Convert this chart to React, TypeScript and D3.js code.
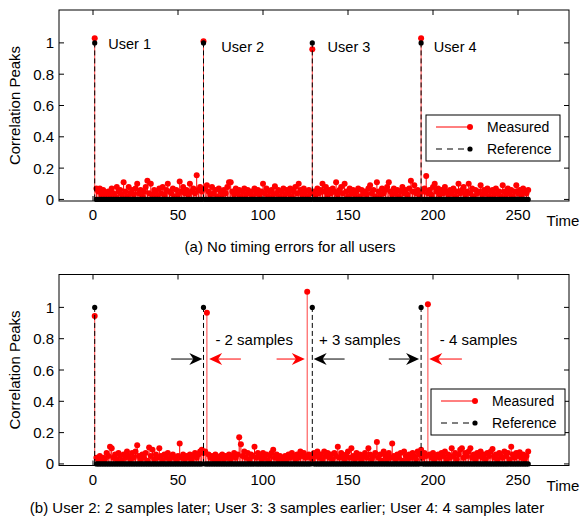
import React from 'react'
import * as d3 from 'd3'

// sample times run 1..256 (one value per sample)
const measuredA = [
  1.03, 0.07, 0.05, 0.07, 0.03, 0.06, 0.02, 0.04, 0.05, 0.03, 0.07, 0.04, 0.02, 0.08, 0.05, 0.06,
  0.03, 0.11, 0.05, 0.02, 0.08, 0.04, 0.06, 0.03, 0.07, 0.10, 0.04, 0.06, 0.02, 0.05, 0.08, 0.12,
  0.04, 0.10, 0.03, 0.06, 0.05, 0.02, 0.07, 0.04, 0.08, 0.03, 0.06, 0.10, 0.05, 0.04, 0.07, 0.02,
  0.06, 0.03, 0.115, 0.05, 0.08, 0.04, 0.06, 0.03, 0.10, 0.05, 0.07, 0.04, 0.155, 0.06, 0.08, 0.05,
  1.01, 0.07, 0.09, 0.05, 0.03, 0.08, 0.04, 0.06, 0.02, 0.07, 0.05, 0.03, 0.06, 0.04, 0.08, 0.11,
  0.11, 0.05, 0.03, 0.07, 0.04, 0.06, 0.02, 0.05, 0.07, 0.03, 0.06, 0.04, 0.05, 0.02, 0.07, 0.04,
  0.06, 0.03, 0.05, 0.10, 0.04, 0.07, 0.02, 0.05, 0.06, 0.03, 0.085, 0.04, 0.06, 0.02, 0.05, 0.07,
  0.03, 0.06, 0.04, 0.07, 0.02, 0.05, 0.08, 0.04, 0.10, 0.06, 0.03, 0.07, 0.05, 0.02, 0.06, 0.04,
  0.96, 0.05, 0.03, 0.07, 0.04, 0.06, 0.10, 0.05, 0.08, 0.03, 0.06, 0.04, 0.07, 0.05, 0.11, 0.03,
  0.06, 0.08, 0.04, 0.10, 0.05, 0.02, 0.07, 0.04, 0.06, 0.03, 0.05, 0.07, 0.02, 0.06, 0.04, 0.05,
  0.03, 0.07, 0.09, 0.04, 0.06, 0.02, 0.11, 0.05, 0.03, 0.07, 0.04, 0.06, 0.08, 0.11, 0.05, 0.03,
  0.07, 0.04, 0.06, 0.02, 0.05, 0.08, 0.04, 0.06, 0.03, 0.07, 0.12, 0.05, 0.09, 0.04, 0.06, 0.03,
  1.03, 0.05, 0.07, 0.15, 0.04, 0.06, 0.03, 0.08, 0.10, 0.05, 0.07, 0.03, 0.06, 0.04, 0.08, 0.05,
  0.03, 0.06, 0.04, 0.07, 0.02, 0.05, 0.10, 0.04, 0.06, 0.08, 0.03, 0.05, 0.10, 0.04, 0.07, 0.02,
  0.06, 0.04, 0.05, 0.09, 0.03, 0.06, 0.04, 0.07, 0.02, 0.05, 0.06, 0.03, 0.07, 0.04, 0.05, 0.02,
  0.09, 0.05, 0.03, 0.07, 0.04, 0.06, 0.02, 0.05, 0.09, 0.04, 0.06, 0.03, 0.07, 0.05, 0.04, 0.06,
]

const measuredB = [
  0.945, 0.04, 0.03, 0.05, 0.02, 0.04, 0.03, 0.07, 0.05, 0.11, 0.10, 0.04, 0.06, 0.03, 0.07, 0.05,
  0.02, 0.06, 0.04, 0.08, 0.05, 0.03, 0.07, 0.04, 0.08, 0.12, 0.05, 0.03, 0.06, 0.04, 0.07, 0.02,
  0.105, 0.05, 0.09, 0.03, 0.06, 0.04, 0.10, 0.05, 0.02, 0.06, 0.04, 0.07, 0.03, 0.05, 0.06, 0.04,
  0.02, 0.05, 0.13, 0.04, 0.06, 0.03, 0.05, 0.04, 0.06, 0.02, 0.05, 0.07, 0.04, 0.06, 0.08, 0.09,
  0.07, 0.08, 0.965, 0.06, 0.04, 0.05, 0.03, 0.06, 0.04, 0.02, 0.05, 0.06, 0.03, 0.05, 0.04, 0.06,
  0.03, 0.05, 0.07, 0.04, 0.06, 0.17, 0.125, 0.05, 0.08, 0.04, 0.07, 0.03, 0.06, 0.05, 0.11, 0.04,
  0.07, 0.05, 0.03, 0.07, 0.04, 0.06, 0.02, 0.05, 0.07, 0.09, 0.04, 0.06, 0.03, 0.05, 0.04, 0.02,
  0.05, 0.03, 0.06, 0.04, 0.07, 0.05, 0.03, 0.06, 0.04, 0.08, 0.05, 0.07, 0.04, 1.10, 0.06, 0.04,
  0.03, 0.07, 0.05, 0.08, 0.04, 0.06, 0.03, 0.08, 0.05, 0.07, 0.04, 0.06, 0.03, 0.07, 0.05, 0.11,
  0.04, 0.07, 0.05, 0.03, 0.06, 0.08, 0.04, 0.10, 0.05, 0.03, 0.07, 0.04, 0.06, 0.02, 0.05, 0.07,
  0.04, 0.10, 0.06, 0.03, 0.05, 0.07, 0.14, 0.04, 0.06, 0.02, 0.08, 0.05, 0.03, 0.07, 0.04, 0.13,
  0.05, 0.03, 0.06, 0.04, 0.07, 0.02, 0.08, 0.05, 0.03, 0.06, 0.04, 0.07, 0.05, 0.03, 0.08, 0.06,
  0.09, 0.04, 0.07, 0.05, 1.02, 0.06, 0.04, 0.07, 0.03, 0.05, 0.06, 0.04, 0.07, 0.05, 0.08, 0.03,
  0.06, 0.04, 0.10, 0.05, 0.07, 0.03, 0.06, 0.09, 0.10, 0.04, 0.07, 0.05, 0.08, 0.10, 0.04, 0.06,
  0.03, 0.07, 0.05, 0.08, 0.04, 0.06, 0.03, 0.07, 0.05, 0.08, 0.095, 0.04, 0.06, 0.03, 0.07, 0.05,
  0.04, 0.08, 0.05, 0.07, 0.03, 0.11, 0.06, 0.04, 0.07, 0.05, 0.075, 0.04, 0.06, 0.03, 0.05, 0.08,
]

// reference: 1 at the user peaks, 0 everywhere else
const refPeakTimes = [1, 65, 129, 193]
const refPeakValue = 1

const xTicks = [0, 50, 100, 150, 200, 250]
const yTicks = [0, 0.2, 0.4, 0.6, 0.8, 1]

// top panel annotations (data coords)
const userLabels = ['User 1', 'User 2', 'User 3', 'User 4']
const userLabelX = [9, 75.5, 138, 200.5]
const userLabelY = [0.995, 0.975, 0.975, 0.975]

// bottom panel annotations
const shiftLabels = ['- 2 samples', '+ 3 samples', '- 4 samples']
const shiftLabelX = [72, 133, 204]
const shiftLabelY = 0.8
const arrows = [
  { from: 46, to: 64.3, color: '#000' },
  { from: 87, to: 68.3, color: '#ff0000' },
  { from: 108, to: 124.6, color: '#ff0000' },
  { from: 148, to: 129.8, color: '#000' },
  { from: 174, to: 191.8, color: '#000' },
  { from: 217, to: 197.8, color: '#ff0000' },
]
const arrowY = 0.67

const FONT = '"Liberation Sans", Arial, sans-serif'
const W = 581
const H = 520

const x = d3.scaleLinear().domain([-20, 280]).range([59, 569])

const refSeries = measuredA.map((_, i) => (refPeakTimes.includes(i + 1) ? refPeakValue : 0))

function arrowPath(x1: number, x2: number, y: number) {
  const dir = Math.sign(x2 - x1)
  const hl = 13, hw = 6, notch = 4
  return `M${x2},${y} L${x2 - dir * hl},${y - hw} L${x2 - dir * (hl - notch)},${y} L${x2 - dir * hl},${y + hw} Z`
}

function Panel(props: any) {
  const { top, bottom, measured, legend, children } = props
  const y = d3.scaleLinear().domain([-0.01, 1.21]).range([bottom, top])
  const l = 59, r = 569
  const y0 = y(0)
  return (
    <g>
      {/* axis box */}
      <rect x={l} y={top} width={r - l} height={bottom - top} fill="#fff" stroke="#000" strokeWidth={1} />
      {xTicks.map(t => (
        <g key={'x' + t}>
          <line x1={x(t)} x2={x(t)} y1={bottom} y2={bottom - 5} stroke="#000" />
          <line x1={x(t)} x2={x(t)} y1={top} y2={top + 5} stroke="#000" />
          <text x={x(t)} y={bottom + 19} textAnchor="middle" fontSize={15}>{t}</text>
        </g>
      ))}
      {yTicks.map(t => (
        <g key={'y' + t}>
          <line x1={l} x2={l + 5} y1={y(t)} y2={y(t)} stroke="#000" />
          <line x1={r} x2={r - 5} y1={y(t)} y2={y(t)} stroke="#000" />
          <text x={54} y={y(t) + 5.5} textAnchor="end" fontSize={15}>{t}</text>
        </g>
      ))}
      <text x={563} y={bottom + 25} textAnchor="middle" fontSize={15}>Time</text>
      <text transform={`translate(20,${(top + bottom) / 2}) rotate(-90)`} textAnchor="middle" fontSize={15}>Correlation Peaks</text>

      {/* measured stems */}
      {measured.map((v: number, i: number) => (
        <line key={'ms' + i} x1={x(i + 1)} x2={x(i + 1)} y1={y0} y2={y(v)} stroke={v > 0.5 ? '#ff4040' : '#ff0000'} strokeWidth={1} />
      ))}
      {measured.map((v: number, i: number) => (
        <circle key={'md' + i} cx={x(i + 1)} cy={y(v)} r={3} fill="#ff0000" />
      ))}
      {/* reference stems */}
      {refSeries.map((v, i) => v > 0 ? (
        <line key={'rs' + i} x1={x(i + 1)} x2={x(i + 1)} y1={y0} y2={y(v)} stroke="#000" strokeWidth={1} strokeDasharray="5,3" />
      ) : null)}
      {refSeries.map((v, i) => (
        <circle key={'rd' + i} cx={x(i + 1)} cy={y(v)} r={2.6} fill="#000" />
      ))}

      {children && children(y)}

      {/* legend */}
      <g transform={`translate(${legend.x},${legend.y})`}>
        <rect width={134} height={46} fill="#fff" stroke="#000" />
        <line x1={10} x2={44} y1={12} y2={12} stroke="#ff0000" />
        <circle cx={44} cy={12} r={3} fill="#ff0000" />
        <text x={61} y={17} fontSize={14}>Measured</text>
        <line x1={10} x2={40} y1={34} y2={34} stroke="#000" strokeDasharray="6,5" />
        <circle cx={44} cy={34} r={2.6} fill="#000" />
        <text x={61} y={39} fontSize={14}>Reference</text>
      </g>
    </g>
  )
}

export default function App() {
  return (
    <svg width={W} height={H} style={{ position: 'absolute', left: 0, top: 0, background: '#fff' }} fontFamily={FONT}>
      <rect width={W} height={H} fill="#fff" />
      <Panel top={10} bottom={201} measured={measuredA} legend={{ x: 426, y: 115 }}>
        {(y: any) => userLabels.map((s, i) => (
          <text key={s} x={x(userLabelX[i])} y={y(userLabelY[i]) + 5} fontSize={14.5}>{s}</text>
        ))}
      </Panel>
      <text x={290} y={252} textAnchor="middle" fontSize={15}>(a) No timing errors for all users</text>

      <Panel top={274.5} bottom={465.5} measured={measuredB} legend={{ x: 431, y: 389 }}>
        {(y: any) => (
          <g>
            {shiftLabels.map((s, i) => (
              <text key={s} x={x(shiftLabelX[i])} y={y(shiftLabelY) + 6} fontSize={15}>{s}</text>
            ))}
            {arrows.map((a, i) => (
              <g key={'a' + i}>
                <line x1={x(a.from)} x2={x(a.to) - Math.sign(a.to - a.from) * 8} y1={y(arrowY)} y2={y(arrowY)} stroke={a.color} strokeWidth={1} />
                <path d={arrowPath(x(a.from), x(a.to), y(arrowY))} fill={a.color} />
              </g>
            ))}
          </g>
        )}
      </Panel>
      <text x={287} y={513} textAnchor="middle" fontSize={15}>(b) User 2: 2 samples later; User 3: 3 samples earlier; User 4: 4 samples later</text>
    </svg>
  )
}
